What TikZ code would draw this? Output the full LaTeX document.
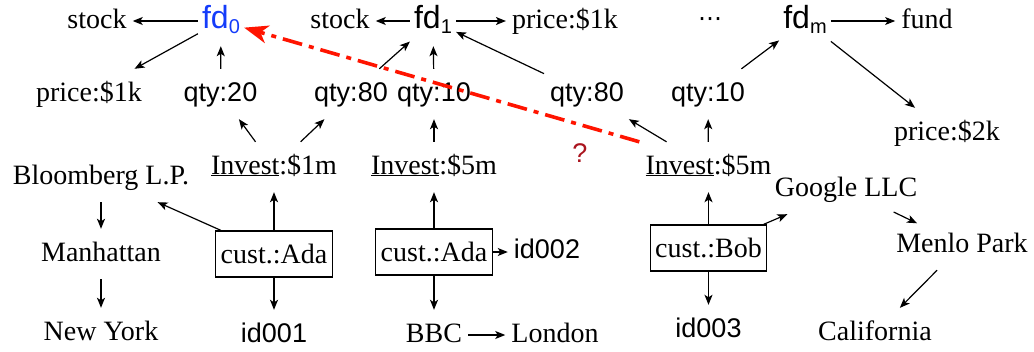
\documentclass[tikz,border=0pt]{standalone}
\usepackage{fontspec}
\setmainfont{Liberation Serif}
\setsansfont{Liberation Sans}
\newfontfamily\dejavu{DejaVu Sans}
\usetikzlibrary{arrows.meta}
\definecolor{fdblue}{RGB}{20,60,250}
\definecolor{qred}{RGB}{170,20,30}
\definecolor{dashred}{RGB}{255,20,0}
\newcommand{\fdsub}[1]{\raisebox{-5pt}{\fontsize{20}{20}\selectfont #1}}
\begin{document}
\begin{tikzpicture}[x=1pt,y=-1pt,
  lbl/.style={anchor=base, inner xsep=6pt, inner ysep=12pt, text height=20pt, text depth=6pt},
  ser/.style={lbl, font=\fontsize{28}{30}\selectfont},
  sans/.style={lbl, font=\sffamily\fontsize{27}{30}\selectfont},
  fdnode/.style={lbl, inner xsep=4pt, font=\sffamily\fontsize{32}{34}\selectfont},
  custbox/.style={draw, line width=1.2pt, anchor=center, inner xsep=5pt, inner ysep=0pt,
    minimum height=46pt, font=\fontsize{28}{30}\selectfont},
  arr/.style={-{Stealth[length=10pt,width=8pt,inset=2.5pt]}, line width=1.2pt},
  redarr/.style={-{Stealth[length=24pt,width=18pt,inset=7pt]}, draw=dashred, line width=3.6pt,
    dash pattern=on 20pt off 7pt on 5pt off 7pt}]
\useasboundingbox (0,0) rectangle (1034,351);
% row 1
\node[ser] (stockA) at (97,28) {stock};
\node[fdnode, text=fdblue] (fd0) at (221,28) {fd\fdsub{0}};
\node[ser] (stockB) at (340,28) {stock};
\node[fdnode] (fd1) at (433,28) {fd\fdsub{1}};
\node[ser] (priceA) at (565,28) {price:\$1k};
\node[anchor=base, inner sep=0pt, font=\dejavu\fontsize{24}{26}\selectfont] (dots) at (710,26) {⋯};
\node[fdnode] (fdm) at (805,28) {fd\fdsub{m}};
\node[ser] (fund) at (927,28) {fund};
% row 2
\node[ser] (priceL) at (89,101) {price:\$1k};
\node[sans] (q20) at (220.5,101) {qty:20};
\node[sans] (q80L) at (351,101) {qty:80};
\node[sans] (q10M) at (434,101) {qty:10};
\node[sans] (q80R) at (587,101) {qty:80};
\node[sans] (q10R) at (708,101) {qty:10};
\node[ser] (price2k) at (947,140) {price:\$2k};
% invest row
\node[ser] (inv1) at (274,174) {\underline{Invest}:\$1m};
\node[ser] (inv5M) at (434,174) {\underline{Invest}:\$5m};
\node[ser] (inv5R) at (708.5,174) {\underline{Invest}:\$5m};
\node[sans, text=qred] (qm) at (580,162) {?};
\node[ser] (bloom) at (101,184) {Bloomberg L.P.};
\node[ser] (google) at (846,196) {Google LLC};
% boxes row
\node[custbox] (adaL) at (274,254) {cust.:Ada};
\node[custbox] (adaM) at (434,252) {cust.:Ada};
\node[custbox] (bob) at (708.5,248) {cust.:Bob};
\node[sans] (id2) at (547,258) {id002};
\node[ser] (manh) at (101,261) {Manhattan};
\node[ser] (menlo) at (962,252) {Menlo Park};
% bottom row
\node[ser] (ny) at (101,340) {New York};
\node[sans] (id1) at (274,342) {id001};
\node[ser] (bbc) at (434,342) {BBC};
\node[ser] (london) at (555,342) {London};
\node[sans] (id3) at (708.5,337) {id003};
\node[ser] (calif) at (875,340) {California};
% edges
\draw[arr] (fd0) -- (stockA);
\draw[arr] (fd0) -- (priceL);
\draw[arr] (q20) -- (fd0);
\draw[arr] (inv1) -- (q20);
\draw[arr] (inv1) -- (q80L);
\draw[arr] (q80L) -- (fd1);
\draw[arr] (q10M) -- (fd1);
\draw[arr] (q80R) -- (fd1);
\draw[arr] (fd1) -- (stockB);
\draw[arr] (fd1) -- (priceA);
\draw[arr] (inv5M) -- (q10M);
\draw[arr] (inv5R) -- (q80R);
\draw[arr] (inv5R) -- (q10R);
\draw[arr] (q10R) -- (fdm);
\draw[arr] (fdm) -- (fund);
\draw[arr] (fdm) -- (price2k);
\draw[arr] (adaL) -- (inv1);
\draw[arr] (adaL) -- (bloom);
\draw[arr] (adaL) -- (id1);
\draw[arr] (bloom) -- (manh);
\draw[arr] (manh) -- (ny);
\draw[arr] (adaM) -- (inv5M);
\draw[arr] (adaM.east) -- (adaM.east -| id2.west);
\draw[arr] (adaM) -- (bbc);
\draw[arr] (bbc) -- (london);
\draw[arr] (bob) -- (inv5R);
\draw[arr] (bob) -- (google);
\draw[arr] (bob) -- (id3);
\draw[arr, shorten <=-5pt, shorten >=-8pt] (google) -- (menlo);
\draw[arr] (menlo) -- (calif);
\draw[redarr] (inv5R.north west) -- (fd0);
\end{tikzpicture}
\end{document}
